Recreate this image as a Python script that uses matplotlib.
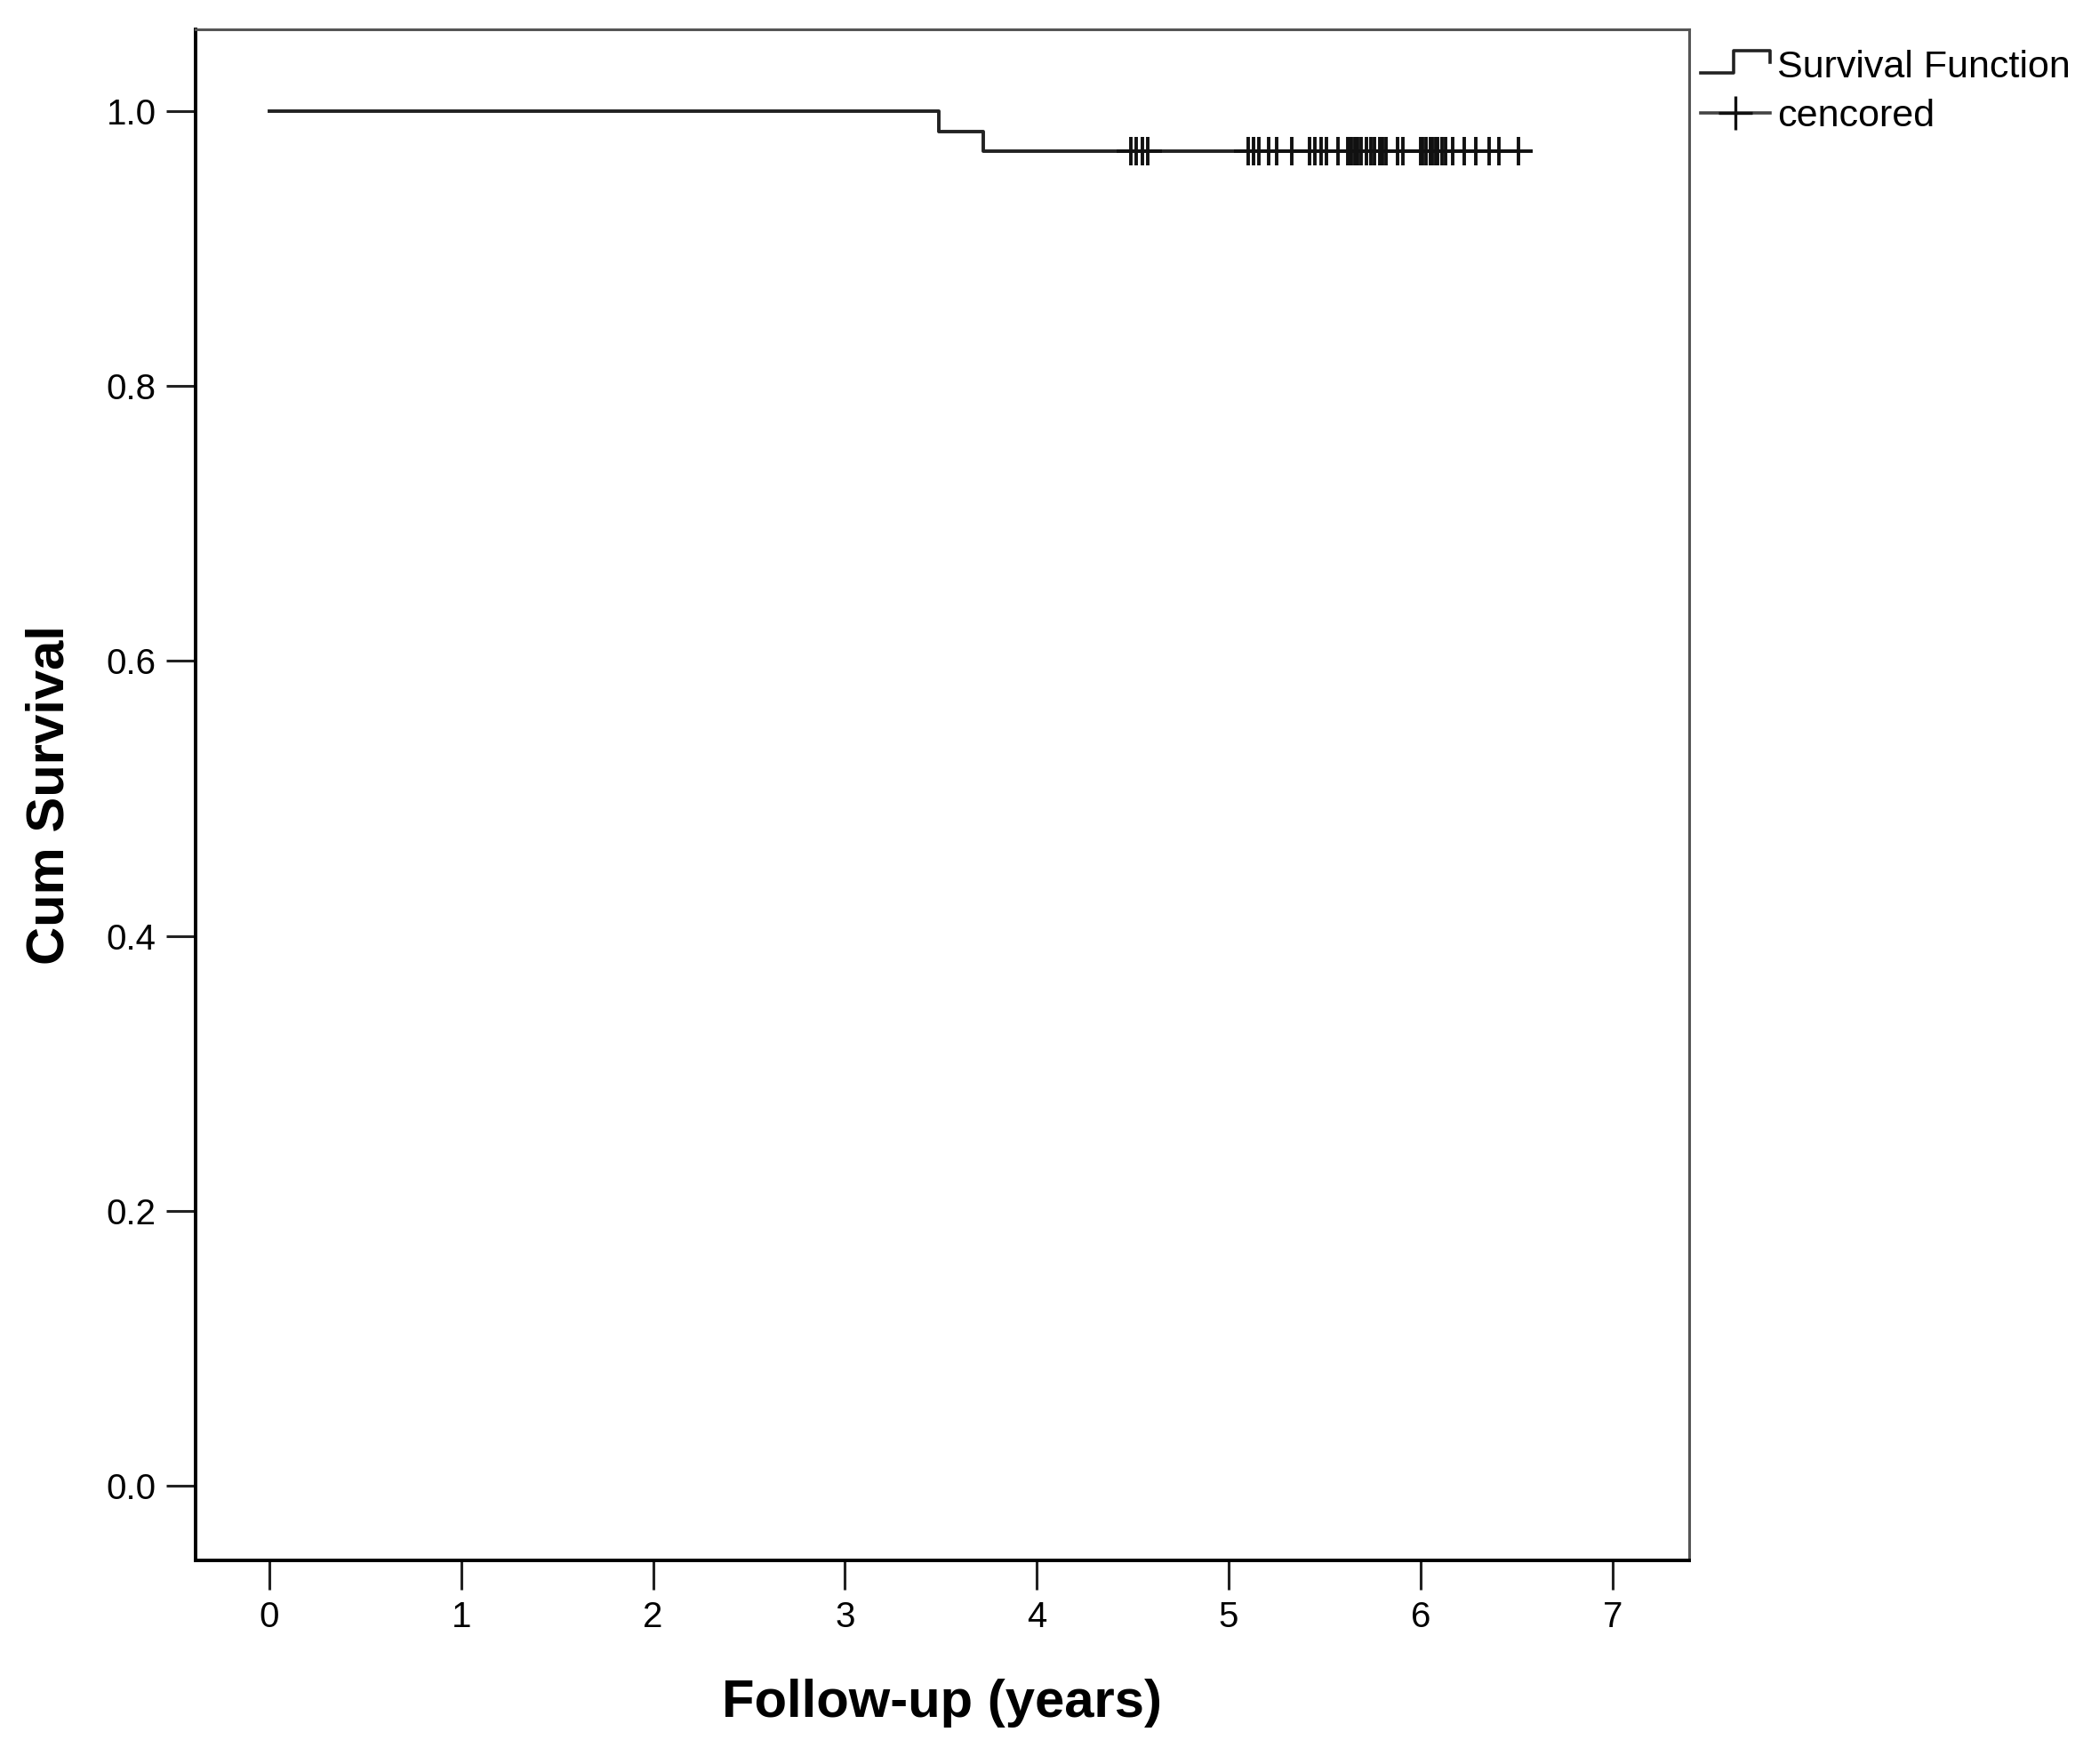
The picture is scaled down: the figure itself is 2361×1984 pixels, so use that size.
import matplotlib
matplotlib.use("Agg")
import matplotlib.pyplot as plt
from matplotlib.lines import Line2D
from matplotlib.legend_handler import HandlerBase

plt.rcParams["font.family"] = ["Liberation Sans", "DejaVu Sans"]

# Kaplan-Meier data, n = 68
n_patients = 68
event_times = [3.49, 3.72]
censored_times = [
    4.49, 4.52, 4.55, 4.58,
    5.10, 5.13, 5.16, 5.21, 5.25, 5.33, 5.42, 5.45, 5.48, 5.51, 5.57,
    5.62, 5.63, 5.64, 5.66, 5.67, 5.69, 5.72, 5.74, 5.76, 5.79, 5.80,
    5.82, 5.88, 5.91, 6.00, 6.01, 6.03, 6.05, 6.06, 6.08, 6.09, 6.11,
    6.13, 6.17, 6.23, 6.29, 6.36, 6.41, 6.51,
]

x_ticks = [0, 1, 2, 3, 4, 5, 6, 7]
y_ticks = [0.0, 0.2, 0.4, 0.6, 0.8, 1.0]


def km_curve(events, censored, n):
    # step coordinates of the survival function
    times = sorted([(t, 1) for t in events] + [(t, 0) for t in censored])
    at_risk = n
    s = 1.0
    xs, ys = [0.0], [1.0]
    for t, d in times:
        if d:
            s *= (at_risk - 1) / at_risk
            xs.append(t)
            ys.append(s)
        at_risk -= 1
    xs.append(max(censored))
    ys.append(s)
    return xs, ys, s


class StepHandler(HandlerBase):
    def create_artists(self, legend, orig_handle, xdescent, ydescent,
                       width, height, fontsize, trans):
        x0 = -xdescent
        y0 = -ydescent
        xs = [x0, x0 + 0.48 * width, x0 + 0.48 * width, x0 + width, x0 + width]
        ys = [y0 + 0.15 * height, y0 + 0.15 * height, y0 + 1.0 * height,
              y0 + 1.0 * height, y0 + 0.55 * height]
        line = Line2D(xs, ys, color="#222222", lw=1.3)
        line.set_transform(trans)
        return [line]


xs, ys, s_final = km_curve(event_times, censored_times, n_patients)

fig = plt.figure(figsize=(2361 / 200, 1984 / 200), dpi=200)
ax = fig.add_axes([0.0932, 0.1152, 0.8047 - 0.0932, 0.9834 - 0.1152])

ax.step(xs, ys, where="post", color="#222222", lw=1.4)
ax.plot(censored_times, [s_final] * len(censored_times), linestyle="none",
        marker="+", markersize=11.5, markeredgewidth=1.4, color="#111111")

ax.set_xlim(-0.384, 7.40)
ax.set_ylim(-0.0545, 1.0594)
ax.set_xticks(x_ticks)
ax.set_yticks(y_ticks)
ax.set_yticklabels(["%.1f" % v for v in y_ticks])
ax.tick_params(axis="both", direction="out", length=12, width=1.1,
               labelsize=14.5, pad=4, color="#222222")

for side in ["left", "bottom"]:
    ax.spines[side].set_color("black")
    ax.spines[side].set_linewidth(1.4)
for side in ["top", "right"]:
    ax.spines[side].set_color("#555555")
    ax.spines[side].set_linewidth(1.1)

ax.set_xlabel("Follow-up (years)", fontsize=21.5, fontweight="bold", labelpad=18)
ax.set_ylabel("Cum Survival", fontsize=21.5, fontweight="bold", labelpad=13)

h_step = Line2D([], [], color="#222222")
h_cens = Line2D([], [], color="#444444", lw=1.3, marker="+", markersize=14,
                markeredgewidth=1.2, markeredgecolor="#111111")
fig.legend([h_step, h_cens], ["Survival Function", "cencored"],
           handler_map={h_step: StepHandler()},
           loc="upper left", bbox_to_anchor=(1913 / 2361, 1 - 56 / 1984),
           frameon=False, fontsize=15.5, borderpad=0, borderaxespad=0,
           handlelength=1.8, handletextpad=0.2, labelspacing=0.35, numpoints=1)

fig.savefig("out.png", dpi=200)
